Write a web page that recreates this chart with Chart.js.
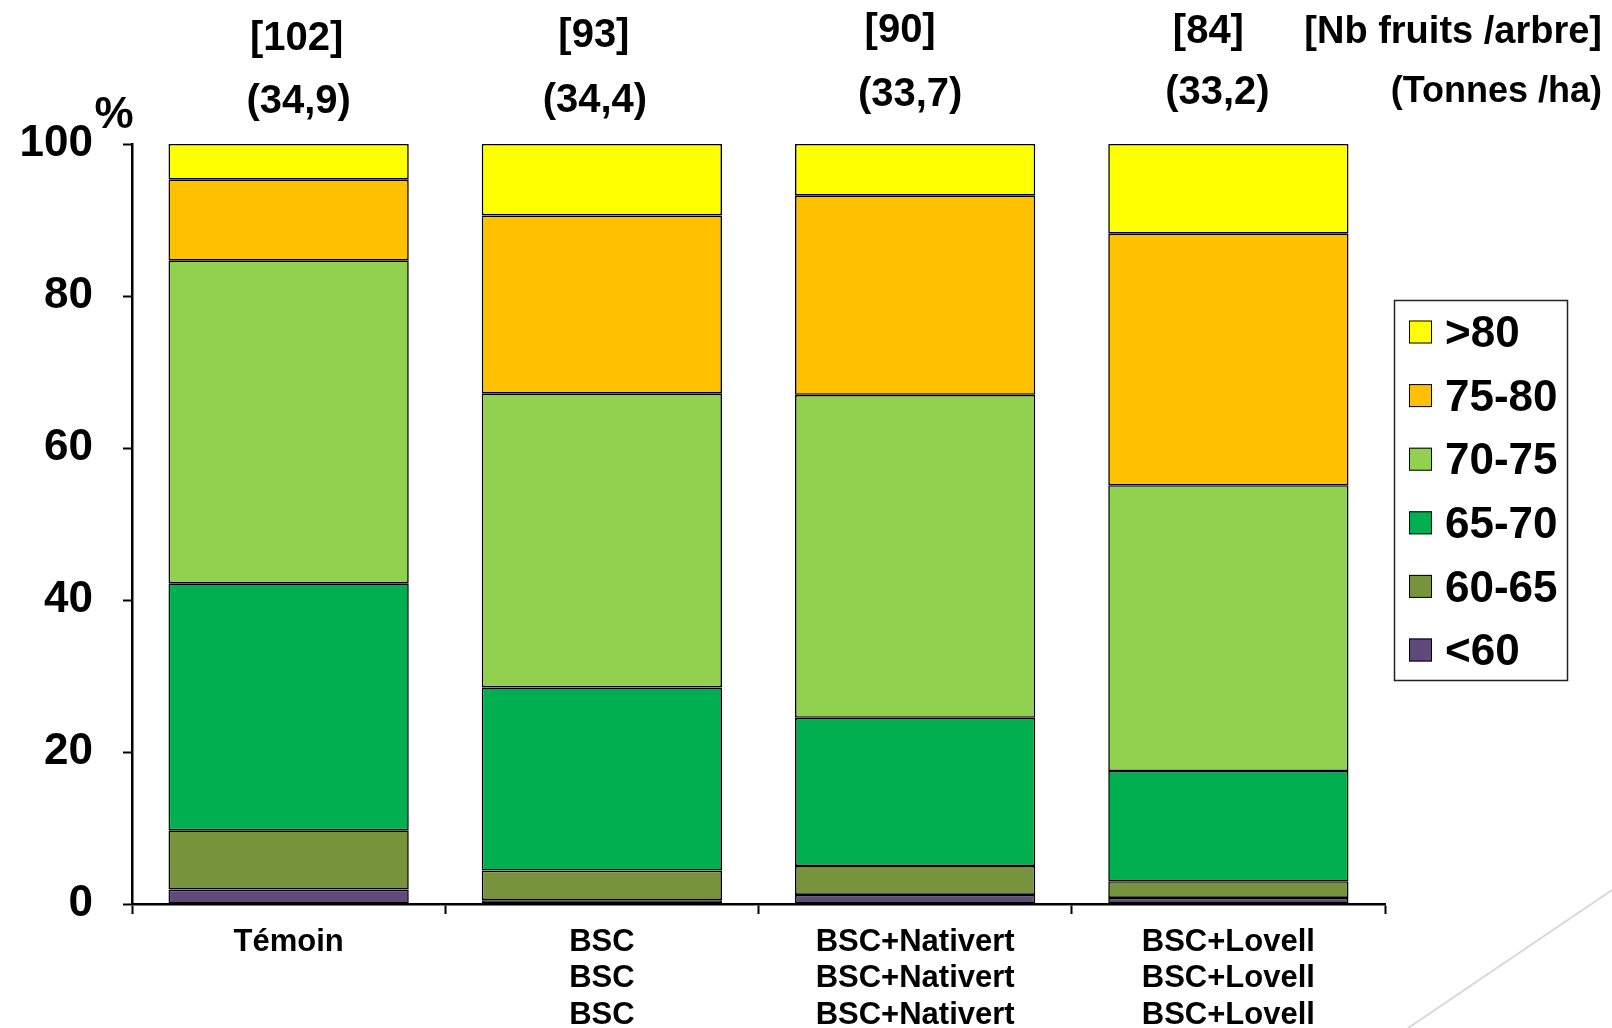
<!DOCTYPE html>
<html>
<head>
<meta charset="utf-8">
<script src="https://cdn.jsdelivr.net/npm/chart.js@4.4.0/dist/chart.umd.min.js"></script>
<style>
  body { margin: 0; background: #fff; }
  #wrap { width: 1612px; height: 1028px; }
</style>
</head>
<body>
<div id="wrap"><canvas id="calibreChart" width="1612" height="1028"></canvas></div>
<script>
// Categories (treatments) and header annotations
const categories = [
    ['Témoin'],
    ['BSC', 'BSC', 'BSC'],
    ['BSC+Nativert', 'BSC+Nativert', 'BSC+Nativert'],
    ['BSC+Lovell', 'BSC+Lovell', 'BSC+Lovell']
];
const fruitsPerTree = [102, 93, 90, 84];
const tonnesPerHa = [34.9, 34.4, 33.7, 33.2];

// Size classes (% of fruits), bottom to top
const under60 = [1.9, 0.5, 1.2, 0.8];
const c60to65 = [7.8, 3.9, 3.8, 2.2];
const c65to70 = [32.5, 24.1, 19.5, 14.5];
const c70to75 = [42.5, 38.7, 42.5, 37.6];
const c75to80 = [10.6, 23.4, 26.2, 33.1];
const over80 = [4.7, 9.4, 6.8, 11.8];

const yTicks = [0, 20, 40, 60, 80, 100];

const FONT = "'Liberation Sans', Arial, sans-serif";

function ds(label, data, color) {
    return {
        label: label,
        data: data,
        backgroundColor: color,
        borderColor: '#000',
        borderWidth: 1.6,
        borderSkipped: false,
        barPercentage: 0.767,
        categoryPercentage: 1
    };
}

// header text, legend box and decorative line
const extras = {
    id: 'extras',
    afterDraw(chart) {
        const c = chart.ctx;
        const x = chart.scales.x;
        c.save();
        c.fillStyle = '#000';
        c.textAlign = 'center';
        c.textBaseline = 'middle';
        c.font = 'bold 40px ' + FONT;
        const dxCount = [8, -8, -15, -20];
        const yCount = [39, 36, 31, 32];
        const dxTon = [10, -7, -5, -11];
        const yTon = [102, 101, 95, 93];
        fruitsPerTree.forEach((v, i) => {
            c.fillText('[' + v + ']', x.getPixelForValue(i) + dxCount[i], yCount[i]);
        });
        tonnesPerHa.forEach((v, i) => {
            c.fillText('(' + v.toFixed(1).replace('.', ',') + ')', x.getPixelForValue(i) + dxTon[i], yTon[i]);
        });
        c.textAlign = 'right';
        c.font = 'bold 38px ' + FONT;
        c.fillText('[Nb fruits /arbre]', 1602, 33);
        c.font = 'bold 36px ' + FONT;
        c.fillText('(Tonnes /ha)', 1602, 92);

        c.textAlign = 'center';
        c.font = 'bold 44px ' + FONT;
        c.fillText('%', 114, 116);

        // legend
        c.strokeStyle = '#222';
        c.lineWidth = 1.5;
        c.strokeRect(1394.5, 300.5, 173, 380);
        const items = chart.data.datasets.slice().reverse();
        c.textAlign = 'left';
        c.font = 'bold 44px ' + FONT;
        items.forEach((d, i) => {
            const cy = 332 + i * 63.6;
            c.fillStyle = d.backgroundColor;
            c.fillRect(1409, cy - 11.5, 23, 23);
            c.strokeStyle = '#000';
            c.lineWidth = 1;
            c.strokeRect(1409.5, cy - 11, 22, 22);
            c.fillStyle = '#000';
            c.fillText(d.label, 1445, cy + 3);
        });

        // decorative slide line
        c.strokeStyle = '#d9d9d9';
        c.lineWidth = 2;
        c.beginPath();
        c.moveTo(1612, 890);
        c.lineTo(1408, 1028);
        c.stroke();
        c.restore();
    }
};

new Chart(document.getElementById('calibreChart').getContext('2d'), {
    type: 'bar',
    data: {
        labels: categories,
        datasets: [
            ds('<60', under60, '#604A7B'),
            ds('60-65', c60to65, '#77933C'),
            ds('65-70', c65to70, '#00B050'),
            ds('70-75', c70to75, '#92D050'),
            ds('75-80', c75to80, '#FFC000'),
            ds('>80', over80, '#FFFF00')
        ]
    },
    options: {
        responsive: false,
        animation: false,
        layout: { padding: { top: 144, right: 227, left: 0, bottom: 0 } },
        plugins: {
            legend: { display: false },
            tooltip: { enabled: false }
        },
        scales: {
            x: {
                stacked: true,
                afterFit: (s) => { s.height = 124; },
                border: { display: true, color: '#000', width: 2.5 },
                grid: { drawOnChartArea: false, drawTicks: true, tickLength: 10, tickColor: '#000', tickWidth: 2 },
                ticks: {
                    color: '#000',
                    padding: 10,
                    maxRotation: 0,
                    autoSkip: false,
                    font: { family: FONT, size: 31, weight: 'bold', lineHeight: 1.18 }
                }
            },
            y: {
                stacked: true,
                min: 0,
                max: 100,
                afterFit: (s) => { s.width = 132; },
                afterBuildTicks: (s) => { s.ticks = yTicks.map(v => ({ value: v })); },
                border: { display: true, color: '#000', width: 2.5 },
                grid: { drawOnChartArea: false, drawTicks: true, tickLength: 9, tickColor: '#000', tickWidth: 2 },
                ticks: {
                    color: '#000',
                    padding: 30,
                    font: { family: FONT, size: 44, weight: 'bold' }
                }
            }
        }
    },
    plugins: [extras]
});
</script>
</body>
</html>
